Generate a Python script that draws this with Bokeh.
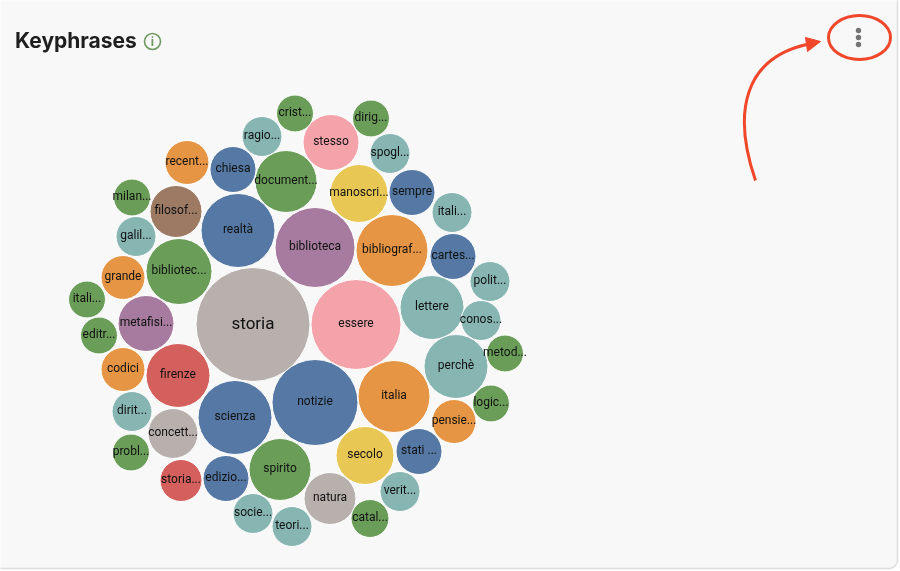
from math import sqrt, cos, sin, pi
from bokeh.plotting import figure
from bokeh.models import Range1d, ColumnDataSource
from bokeh.core.properties import value
from bokeh.embed import file_html
from bokeh.resources import INLINE

labels = ["storia","essere","notizie","biblioteca","scienza","realtà","bibliograf...","italia","lettere","firenze",
          "perchè","bibliotec...","document...","spirito","manoscri...","metafisi...","stesso","secolo","natura","filosof...",
          "concett...","sempre","chiesa","stati ...","edizio...","cartes...","storia...","pensie...","recent...","grande",
          "codici","ragio...","galil...","dirit...","spogl...","itali...","polit...","conos...","socie...","teori...",
          "verit...","catal...","probl...","milan...","itali...","editr...","crist...","dirig...","metod...","logic..."]
# bubble weights (proportional to area)
weights = [3249,2025,1849,1600,1369,1369,1296,1296,1024,1024,
           1024,1089,961,961,841,784,784,841,676,676,
           625,529,529,529,529,529,441,484,484,484,
           484,400,400,400,400,400,400,400,400,400,
           400,361,342,342,342,342,342,342,342,342]
groups = ["grey","pink","blue","purple","blue","blue","orange","orange","teal","red",
          "teal","green","green","green","yellow","purple","pink","yellow","grey","brown",
          "grey","blue","blue","blue","blue","blue","red","orange","orange","orange",
          "orange","teal","teal","teal","teal","teal","teal","teal","teal","teal",
          "teal","green","green","green","green","green","green","green","green","green"]
pos_x = [252.5,355.5,314.5,314.5,234.5,237.5,391.5,393.5,431.5,177.5,
         455.5,178.5,285.5,279.5,358.5,145.5,330.5,364.5,329.5,175.5,
         172.5,411.5,232.5,418.5,225.5,452.5,180.5,453.5,186.5,122.5,
         122.5,261.5,135.5,131.5,389.5,451.5,489.5,480.5,252.5,291.5,
         399.5,369.5,130.5,131.5,86.5,98.5,294.5,370.5,504.5,490.5]
pos_y = [324,324,402,247,417,230,250,396,307,375,
         366,271,181,469,193,323,142,455,498,211,
         433,192,169,451,478,256,480,421,162,277,
         369,136,236,411,153,212,281,320,513,526,
         491,518,452,197,299,335,113,118,353,403]
palette = {"grey":"#b8b0ad","pink":"#f4a3ab","blue":"#5578a5","purple":"#a67b9f","orange":"#e69544",
           "teal":"#86b5b2","red":"#d4605e","green":"#6a9e58","yellow":"#e9c755","brown":"#9c7a63"}

title = "Keyphrases"

radii = [sqrt(w) for w in weights]
fonts = ["17px" if w > 3000 else "12px" for w in weights]
src = ColumnDataSource(dict(x=pos_x, y=pos_y, r=radii, label=labels, color=[palette[g] for g in groups], fs=fonts,
                            ty=[v - 1.5 for v in pos_y]))

p = figure(width=900, height=571, x_range=Range1d(0, 900), y_range=Range1d(571, 0),
           output_backend="svg", toolbar_location=None, min_border=0,
           background_fill_color="#ffffff", border_fill_color="#ffffff", outline_line_color=None)
p.styles = {"position": "fixed", "left": "0px", "top": "0px"}
p.xaxis.visible = False
p.yaxis.visible = False
p.xgrid.visible = False
p.ygrid.visible = False

# card with rounded right-hand corners
def arc(cx, cy, r, a0, a1, n=10):
    return [(cx + r * cos(a0 + (a1 - a0) * i / n), cy + r * sin(a0 + (a1 - a0) * i / n)) for i in range(n + 1)]
card = [(-8, -8)] + arc(888, -1, 9, -pi / 2, 0) + arc(888, 559, 9, 0, pi / 2) + arc(1, 559, 9, pi / 2, pi)
p.patch(x=[c[0] for c in card], y=[c[1] for c in card], fill_color="#f8f8f8", line_color="#dddddd", line_width=1.5)

p.circle(x="x", y="y", radius="r", fill_color="color", line_color="#ffffff", line_width=1, source=src)
p.text(x="x", y="ty", text="label", text_align="center", text_baseline="middle",
       text_font=value("Roboto"), text_font_size="fs", text_color="#111111", source=src)

p.text(x=[14.5], y=[39.5], text=[title], text_font=value("Inter"), text_font_style="bold",
       text_font_size="21px", text_color="#1f1f1f", text_baseline="middle")
# info icon
p.circle(x=[152], y=[41], radius=8, fill_color=None, line_color="#6f9a5f", line_width=1.6)
p.text(x=[152], y=[41], text=["i"], text_align="center", text_baseline="middle", text_font=value("Inter"),
       text_font_style="bold", text_font_size="12px", text_color="#6f9a5f")

# menu dots
p.circle(x=[858, 858, 858], y=[30, 37, 44], radius=2.7, fill_color="#757575", line_color=None)

# annotation
red = "#f0472a"
p.ellipse(x=[859], y=[37], width=[62], height=[44], fill_color=None, line_color=red, line_width=3)
p.bezier(x0=[755], y0=[180], x1=[806], y1=[44], cx0=[731], cy0=[110], cx1=[745], cy1=[58],
         line_color=red, line_width=3)
p.patch(x=[820, 805, 807], y=[41, 37, 51], fill_color=red, line_color=red, line_width=1)

open("out.html", "w").write(file_html(p, INLINE))
